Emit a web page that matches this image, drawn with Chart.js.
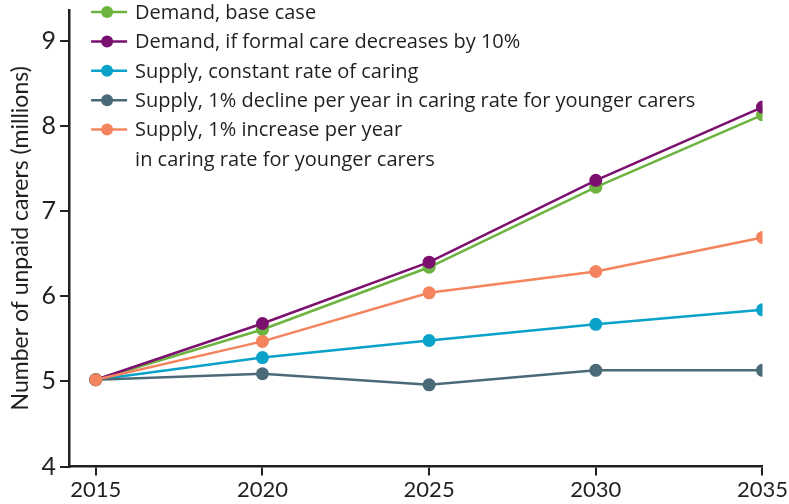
<!DOCTYPE html>
<html>
<head>
<meta charset="utf-8">
<script src="https://cdn.jsdelivr.net/npm/chart.js@4"></script>
<style>
  html, body { margin: 0; padding: 0; background: #fff; }
  #wrap { width: 789px; height: 504px; }
</style>
</head>
<body>
<div id="wrap"><canvas id="grafico" width="789" height="504"></canvas></div>
<script>
// years on the x axis
var years = [2015, 2020, 2025, 2030, 2035];
var xTicks = [2015, 2020, 2025, 2030, 2035];
var yTicks = [4, 5, 6, 7, 8, 9];

// number of unpaid carers, millions
var demandBase = [5.02, 5.61, 6.34, 7.28, 8.13];
var demandFormal = [5.02, 5.68, 6.40, 7.36, 8.22];
var supplyConstant = [5.02, 5.28, 5.48, 5.67, 5.84];
var supplyDecline = [5.02, 5.09, 4.96, 5.13, 5.13];
var supplyIncrease = [5.02, 5.47, 6.04, 6.29, 6.69];

var labels = [
  ["Demand, base case"],
  ["Demand, if formal care decreases by 10%"],
  ["Supply, constant rate of caring"],
  ["Supply, 1% decline per year in caring rate for younger carers"],
  ["Supply, 1% increase per year", "in caring rate for younger carers"]
];
var colores = ["#6cb33f", "#7c106f", "#0aa2c9", "#4b6a78", "#f4845e"];
var series = [demandBase, demandFormal, supplyConstant, supplyDecline, supplyIncrease];

var fuente = "Lato, 'Open Sans', sans-serif";
var fuenteLeyenda = "'Open Sans', Lato, sans-serif";
var negro = "#231f20";

function puntos(vals) {
  var out = [];
  for (var i in years) {
    out.push({x: years[i], y: vals[i]});
  }
  return out;
}

var datasets = [];
for (var i = 0; i < series.length; i++) {
  datasets.push({
    label: labels[i].join(" "),
    data: puntos(series[i]),
    borderColor: colores[i],
    backgroundColor: colores[i],
    borderWidth: 2.5,
    pointRadius: 6.5,
    pointBorderWidth: 0,
    pointHoverRadius: 6.5,
    tension: 0,
    order: series.length - i
  });
}

// legend drawn inside the plot, top left, with line + dot markers
var leyenda = {
  id: 'leyenda',
  afterDraw: function(chart) {
    var ctx = chart.ctx;
    var a = chart.chartArea;
    var x0 = a.left + 22;
    var y = 12;
    var paso = 29.4;
    ctx.save();
    ctx.font = "20px " + fuenteLeyenda;
    ctx.textBaseline = "middle";
    ctx.textAlign = "left";
    for (var i = 0; i < labels.length; i++) {
      ctx.strokeStyle = colores[i];
      ctx.lineWidth = 2.5;
      ctx.beginPath();
      ctx.moveTo(x0, y);
      ctx.lineTo(x0 + 36, y);
      ctx.stroke();
      ctx.fillStyle = colores[i];
      ctx.beginPath();
      ctx.arc(x0 + 16, y, 6, 0, Math.PI * 2);
      ctx.fill();
      ctx.fillStyle = negro;
      for (var j = 0; j < labels[i].length; j++) {
        ctx.fillText(labels[i][j], x0 + 44, y + 1);
        y += paso;
      }
    }
    ctx.restore();
  }
};

var ctx = document.getElementById("grafico");

var grafico = new Chart(ctx, {
  type: 'line',
  data: { datasets: datasets },
  options: {
    responsive: false,
    animation: false,
    layout: { padding: { top: 10, right: 4, left: 7, bottom: 0 } },
    plugins: {
      legend: { display: false },
      tooltip: { enabled: false }
    },
    scales: {
      x: {
        type: 'linear',
        min: 2014.2,
        max: 2035,
        afterBuildTicks: function(scale) {
          scale.ticks = xTicks.map(function(v) { return {value: v}; });
        },
        border: { display: true, color: negro, width: 2.5 },
        grid: { display: true, drawOnChartArea: false, drawTicks: true, tickLength: 9, color: negro, lineWidth: 2 },
        ticks: {
          color: negro,
          font: { family: fuente, size: 22 },
          padding: 1,
          maxRotation: 0,
          callback: function(v) { return String(v); }
        }
      },
      y: {
        min: 4,
        max: 9.36,
        afterBuildTicks: function(scale) {
          scale.ticks = yTicks.map(function(v) { return {value: v}; });
        },
        afterFit: function(scale) {
          scale.paddingTop = 0;
          scale.paddingBottom = 0;
        },
        border: { display: true, color: negro, width: 2.5 },
        grid: { display: true, drawOnChartArea: false, drawTicks: true, tickLength: 9, color: negro, lineWidth: 2 },
        ticks: {
          color: negro,
          font: { family: fuente, size: 25 },
          padding: 4
        },
        title: {
          display: true,
          text: "Number of unpaid carers (millions)",
          color: negro,
          font: { family: fuente, size: 23 },
          padding: { top: 0, bottom: 3 }
        }
      }
    }
  },
  plugins: [leyenda]
});
</script>
</body>
</html>
